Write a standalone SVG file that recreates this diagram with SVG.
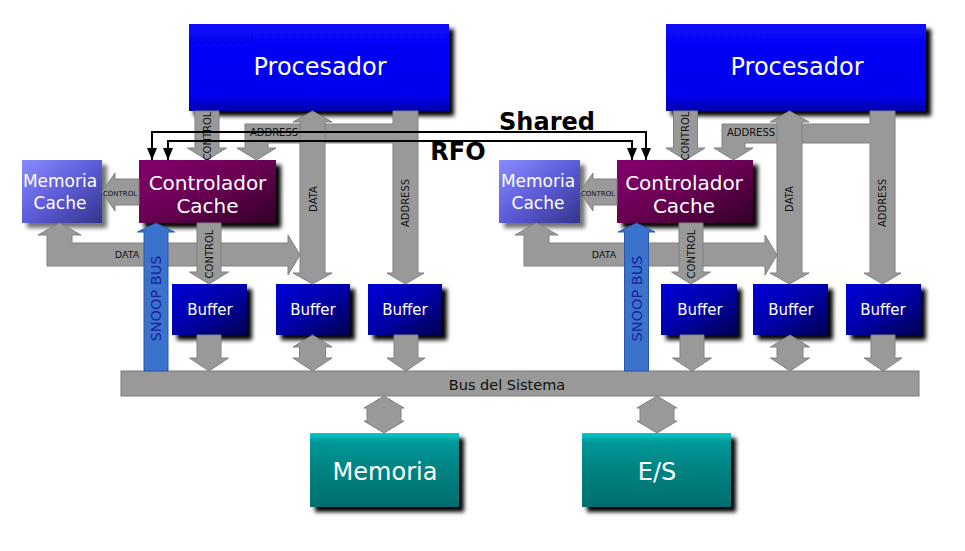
<svg xmlns="http://www.w3.org/2000/svg" width="965" height="551" viewBox="0 0 965 551">
<defs>
<filter id="sh" x="-10%" y="-10%" width="130%" height="140%">
<feGaussianBlur in="SourceAlpha" stdDeviation="2"/>
<feOffset dx="5" dy="5" result="o"/>
<feMerge><feMergeNode in="o"/><feMergeNode in="SourceGraphic"/></feMerge>
</filter>
<filter id="shl" x="-10%" y="-10%" width="130%" height="140%">
<feGaussianBlur in="SourceAlpha" stdDeviation="2"/>
<feOffset dx="5" dy="5"/>
<feComponentTransfer><feFuncA type="linear" slope="0.55"/></feComponentTransfer>
<feMerge><feMergeNode/><feMergeNode in="SourceGraphic"/></feMerge>
</filter>
<linearGradient id="gProc" x1="0" y1="0" x2="0" y2="1">
<stop offset="0" stop-color="#0808fa"/><stop offset="0.82" stop-color="#0000ee"/><stop offset="1" stop-color="#0000a8"/>
</linearGradient>
<linearGradient id="gCtl" x1="0" y1="0" x2="1" y2="1">
<stop offset="0" stop-color="#84006c"/><stop offset="0.5" stop-color="#680052"/><stop offset="1" stop-color="#300026"/>
</linearGradient>
<linearGradient id="gMc" x1="0" y1="0" x2="1" y2="1">
<stop offset="0" stop-color="#8a8aff"/><stop offset="0.5" stop-color="#5c5cd8"/><stop offset="1" stop-color="#34348c"/>
</linearGradient>
<linearGradient id="gBuf" x1="0" y1="0" x2="1" y2="1">
<stop offset="0" stop-color="#0000d8"/><stop offset="0.5" stop-color="#0000a8"/><stop offset="1" stop-color="#000050"/>
</linearGradient>
<linearGradient id="gTeal" x1="0" y1="0" x2="0" y2="1">
<stop offset="0" stop-color="#00cccc"/><stop offset="0.12" stop-color="#009898"/><stop offset="0.5" stop-color="#008282"/><stop offset="1" stop-color="#006e6e"/>
</linearGradient>
<marker id="ah" viewBox="0 0 12 10" refX="12" refY="5" markerWidth="12" markerHeight="10" markerUnits="userSpaceOnUse" orient="auto-start-reverse">
<path d="M0,0 L12,5 L0,10 z" fill="#000"/>
</marker>
</defs>
<style>
text{font-family:"DejaVu Sans","Liberation Sans",sans-serif}
.w{fill:#fff;text-anchor:middle}
.big{font-size:24px}
.ctl{font-size:20px}
.mc{font-size:17px}
.buf{font-size:15px}
.ga{fill:#999;stroke:#808080;stroke-width:1}
.sn{fill:#3a72cc;stroke:#2a58a8;stroke-width:1}
.lb{fill:#111;text-anchor:middle;font-size:10px}
.s7{fill:#111;text-anchor:middle;font-size:7px}
.s95{fill:#111;text-anchor:middle;font-size:9.5px}
.vl{fill:#111;text-anchor:middle;dominant-baseline:central;font-size:10px}
.snt{fill:#1a22a0;text-anchor:middle;dominant-baseline:central;font-size:14.5px}
.bl{fill:none;stroke:#000;stroke-width:2;marker-start:url(#ah);marker-end:url(#ah)}
.bt{fill:#000;font-weight:bold;font-size:24px;text-anchor:middle}
</style>
<rect width="965" height="551" fill="#fff"/>

<g id="procesador1"><rect x="189" y="24" width="260" height="87" fill="url(#gProc)" filter="url(#sh)"/><text class="w big" x="320" y="75">Procesador</text></g>
<g id="procesador2"><rect x="666" y="24" width="260" height="87" fill="url(#gProc)" filter="url(#sh)"/><text class="w big" x="797" y="75">Procesador</text></g>
<g id="memcache1"><rect x="22" y="160" width="80" height="63" fill="url(#gMc)" filter="url(#shl)"/><text class="w mc" x="60" y="187">Memoria</text><text class="w mc" x="60" y="209">Cache</text></g>
<g id="controlador1"><rect x="139" y="160" width="137" height="63" fill="url(#gCtl)" filter="url(#sh)"/><text class="w ctl" x="207.5" y="190">Controlador</text><text class="w ctl" x="207.5" y="213">Cache</text></g>
<g id="memcache2"><rect x="499" y="160" width="81" height="63" fill="url(#gMc)" filter="url(#shl)"/><text class="w mc" x="538" y="187">Memoria</text><text class="w mc" x="538" y="209">Cache</text></g>
<g id="controlador2"><rect x="617" y="160" width="136" height="63" fill="url(#gCtl)" filter="url(#sh)"/><text class="w ctl" x="684" y="190">Controlador</text><text class="w ctl" x="684" y="213">Cache</text></g>
<g id="buffer1a"><rect x="172" y="284" width="75" height="51" fill="url(#gBuf)" filter="url(#sh)"/><text class="w buf" x="210" y="315">Buffer</text></g>
<g id="buffer1b"><rect x="276" y="284" width="74" height="51" fill="url(#gBuf)" filter="url(#sh)"/><text class="w buf" x="313" y="315">Buffer</text></g>
<g id="buffer1c"><rect x="368" y="284" width="74" height="51" fill="url(#gBuf)" filter="url(#sh)"/><text class="w buf" x="405" y="315">Buffer</text></g>
<g id="buffer2a"><rect x="661" y="284" width="76" height="51" fill="url(#gBuf)" filter="url(#sh)"/><text class="w buf" x="700" y="315">Buffer</text></g>
<g id="buffer2b"><rect x="753" y="284" width="75" height="51" fill="url(#gBuf)" filter="url(#sh)"/><text class="w buf" x="791" y="315">Buffer</text></g>
<g id="buffer2c"><rect x="846" y="284" width="75" height="51" fill="url(#gBuf)" filter="url(#sh)"/><text class="w buf" x="883" y="315">Buffer</text></g>
<g id="bus"><rect x="121" y="371" width="798" height="25" fill="#999" stroke="#7a7a7a" stroke-width="1"/><text x="507" y="390" font-size="14.5" fill="#111" text-anchor="middle">Bus del Sistema</text></g>
<g id="memoria"><rect x="310" y="433" width="149" height="74" fill="url(#gTeal)" filter="url(#sh)"/><text class="w big" x="385" y="480">Memoria</text></g>
<g id="es"><rect x="582" y="433" width="149" height="74" fill="url(#gTeal)" filter="url(#sh)"/><text class="w big" x="657" y="480">E/S</text></g>

<g id="connectors">
<!-- left side -->
<polygon class="ga" points="393,111 418,111 418,273 424,273 405.5,284 387,273 393,273 393,143 268,143 268,148 276,148 256.5,160 237,148 245,148 245,124 393,124"/>
<polygon class="ga" points="312.5,111 332,122 325,122 325,273 332,273 312.5,284 293,273 300,273 300,122 293,122"/>
<polygon class="ga" points="195,111 219,111 219,148 226.5,148 207,160 187.5,148 195,148"/>
<polygon class="ga" points="47,266 47,235 38,235 59.5,223 81,235 72,235 72,243 288,243 288,235 300,255 288,275 288,266"/>
<polygon class="ga" points="197,223 221,223 221,272 228.5,272 209,284 189.5,272 197,272"/>
<polygon class="ga" points="139,179 115,179 115,173 102,192 115,211 115,205 139,205"/>
<polygon class="sn" points="144,371 144,232 137.5,232 156,223 174.5,232 168,232 168,371"/>
<polygon class="ga" points="197,335 221,335 221,358 228.5,358 209,371 189.5,358 197,358"/>
<polygon class="ga" points="312.5,335 332,347 325.5,347 325.5,358 332,358 312.5,371 293,358 299.5,358 299.5,347 293,347"/>
<polygon class="ga" points="394,335 418,335 418,358 425,358 406,371 387,358 394,358"/>
<!-- right side -->
<polygon class="ga" points="870,111 895,111 895,273 901,273 882.5,284 864,273 870,273 870,143 745,143 745,148 753,148 733.5,160 714,148 722,148 722,124 870,124"/>
<polygon class="ga" points="789.5,111 809,122 802,122 802,273 809,273 789.5,284 770,273 777,273 777,122 770,122"/>
<polygon class="ga" points="673.5,111 697.5,111 697.5,148 705,148 685.5,160 666,148 673.5,148"/>
<polygon class="ga" points="524,266 524,235 515,235 536.5,223 558,235 549,235 549,243 765,243 765,235 777,255 765,275 765,266"/>
<polygon class="ga" points="679,223 703,223 703,272 710.5,272 691,284 671.5,272 679,272"/>
<polygon class="ga" points="617,179 593,179 593,173 580,192 593,211 593,205 617,205"/>
<polygon class="sn" points="624.5,371 624.5,232 618,232 636.5,223 655,232 648.5,232 648.5,371"/>
<polygon class="ga" points="680,335 704,335 704,358 711.5,358 692,371 672.5,358 680,358"/>
<polygon class="ga" points="790,335 809.5,347 803,347 803,358 809.5,358 790,371 770.5,358 777,358 777,347 770.5,347"/>
<polygon class="ga" points="871,335 895,335 895,358 902,358 883,371 864,358 871,358"/>
<!-- bus to memoria / E/S -->
<polygon class="ga" points="384,396 404,408 401,408 401,421 404,421 384,433 364,421 367,421 367,408 364,408"/>
<polygon class="ga" points="657,396 677,408 674,408 674,421 677,421 657,433 637,421 640,421 640,408 637,408"/>
<!-- labels -->
<text class="vl" transform="translate(207,136) rotate(-90)">CONTROL</text>
<text class="lb" x="274" y="136">ADDRESS</text>
<text class="vl" transform="translate(313,199) rotate(-90)">DATA</text>
<text class="vl" transform="translate(405.5,203) rotate(-90)">ADDRESS</text>
<text class="s7" x="120" y="195.5">CONTROL</text>
<text class="s95" x="127" y="258">DATA</text>
<text class="vl" transform="translate(209,254) rotate(-90)">CONTROL</text>
<text class="snt" transform="translate(156,298.5) rotate(-90)">SNOOP BUS</text>
<text class="vl" transform="translate(685.5,136) rotate(-90)">CONTROL</text>
<text class="lb" x="751" y="136">ADDRESS</text>
<text class="vl" transform="translate(789.5,199) rotate(-90)">DATA</text>
<text class="vl" transform="translate(882.5,203) rotate(-90)">ADDRESS</text>
<text class="s7" x="598" y="195.5">CONTROL</text>
<text class="s95" x="604" y="258">DATA</text>
<text class="vl" transform="translate(691,254) rotate(-90)">CONTROL</text>
<text class="snt" transform="translate(636.5,298.5) rotate(-90)">SNOOP BUS</text>
<!-- Shared / RFO -->
<path class="bl" d="M152,160 V132 H646 V160"/>
<path class="bl" d="M168,160 V141 H632 V160"/>
<text class="bt" x="547" y="130">Shared</text>
<text class="bt" x="458" y="160">RFO</text>
</g>
</svg>
